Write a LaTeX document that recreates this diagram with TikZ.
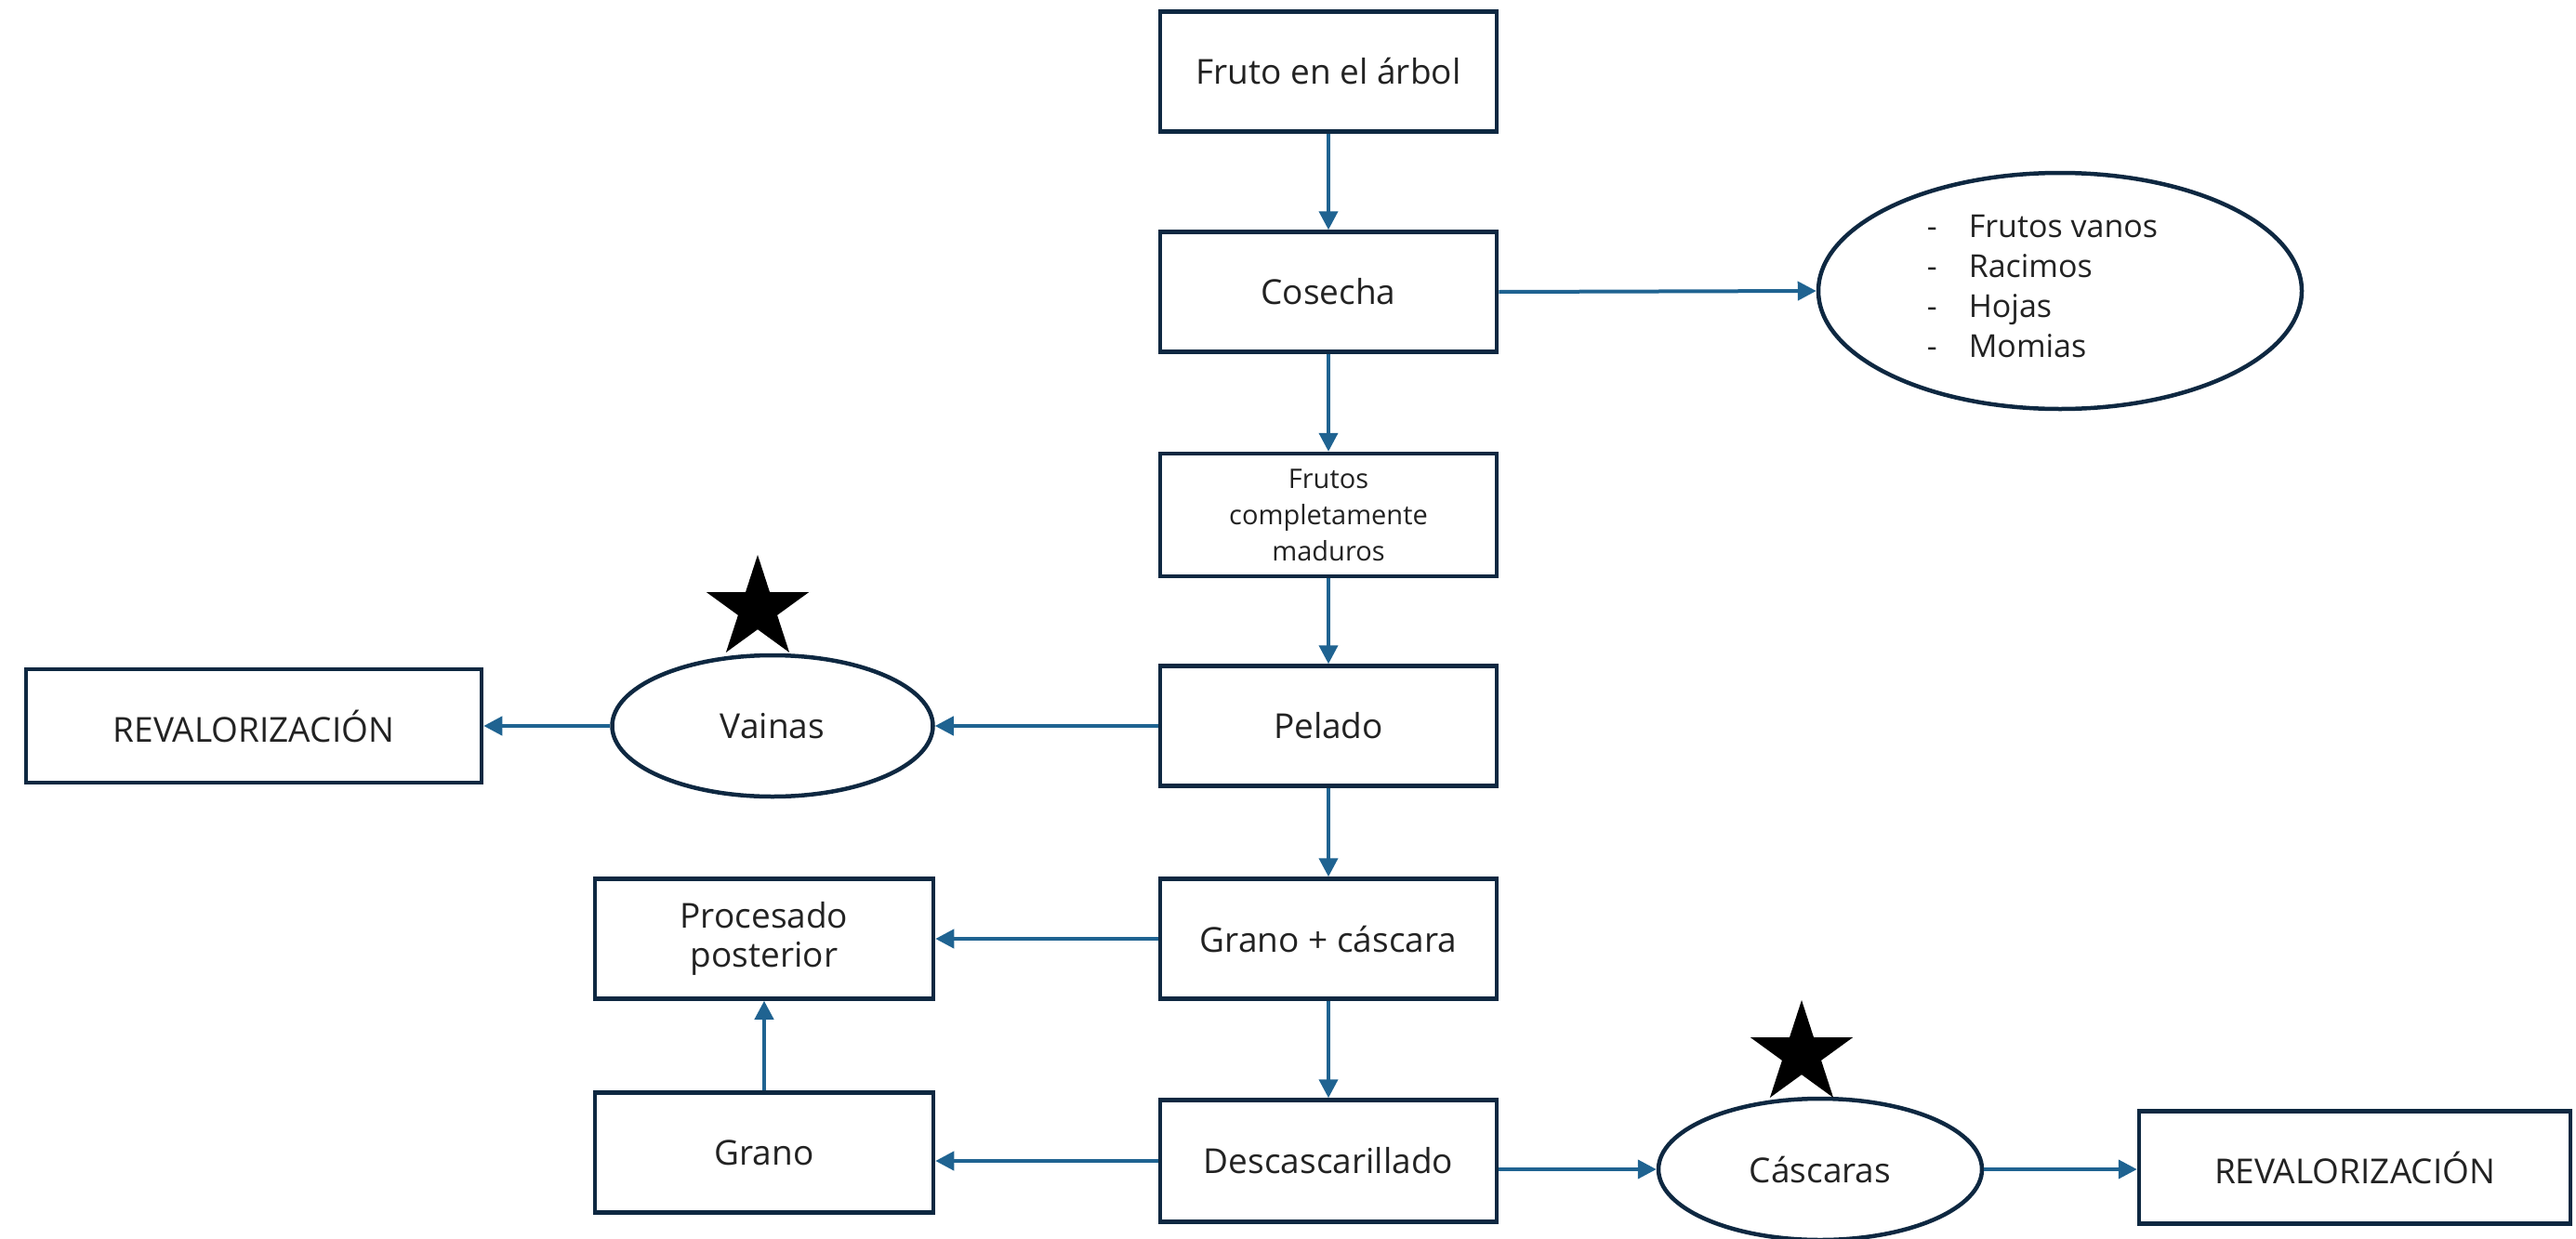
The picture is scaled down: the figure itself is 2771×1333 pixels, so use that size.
\documentclass[tikz,border=0pt]{standalone}
\usepackage{fontspec}
\setmainfont{Open Sans}
\usetikzlibrary{shapes.geometric,arrows.meta}
\definecolor{boxline}{HTML}{0E2841}
\definecolor{arrowc}{HTML}{1F6391}
\definecolor{txt}{HTML}{222222}
\begin{document}
\begin{tikzpicture}[x=1pt,y=-1pt,
  box/.style={draw=boxline,line width=4.5pt,rectangle,minimum width=362pt,minimum height=129pt,inner sep=0pt,align=center,text=txt,font=\fontsize{37}{42}\selectfont},
  oval/.style={draw=boxline,line width=4.5pt,ellipse,inner sep=0pt,align=center,text=txt,font=\fontsize{37}{42}\selectfont},
  flow/.style={draw=arrowc,line width=4pt,-{Triangle[length=20pt,width=20pt]}},
  starmark/.style={star,star points=5,star point ratio=2.618,fill=black,minimum size=116pt,inner sep=0pt}]
\useasboundingbox (0,0) rectangle (2771,1333);
\node[box] (fruto) at (1429,77) {Fruto en el árbol};
\node[box] (cosecha) at (1429,314) {Cosecha};
\node[box, minimum height=132pt, font=\fontsize{29}{39}\selectfont] (maduros) at (1429,554) {Frutos\\completamente\\maduros};
\node[box] (pelado) at (1429,781) {Pelado};
\node[box] (gc) at (1429,1010) {Grano + cáscara};
\node[box, minimum height=131pt] (desc) at (1429,1249) {Descascarillado};
\node[oval, minimum width=520pt, minimum height=254pt] (resid) at (2216,313) {};
\node[text=txt, inner sep=0pt, font=\fontsize{34}{43}\selectfont] (lista) at (2197,311)
  {\begin{tabular}{@{}l@{\hspace{34pt}}l@{}}-&Frutos vanos\\-&Racimos\\-&Hojas\\-&Momias\end{tabular}};
\node[oval, minimum width=345pt, minimum height=152pt] (vainas) at (831,781) {Vainas};
\node[box, minimum width=490pt, minimum height=122pt] (rev1) at (273,781) {REVALORIZACIÓN};
\node[starmark] (star1) at (815,655) {};
\node[box, minimum width=364pt] (proc) at (822,1010) {Procesado\\posterior};
\node[box, minimum width=364pt] (grano) at (822,1240) {Grano};
\node[oval, minimum width=348pt, minimum height=152pt] (cascaras) at (1958,1258) {Cáscaras};
\node[starmark] (star2) at (1938,1134) {};
\node[box, minimum width=464pt, minimum height=121pt] (rev2) at (2533,1256) {REVALORIZACIÓN};
\draw[flow] (fruto) -- (cosecha);
\draw[flow] (cosecha.east) -- (resid.west);
\draw[flow] (cosecha) -- (maduros);
\draw[flow] (maduros) -- (pelado);
\draw[flow] (pelado.west) -- (vainas.east);
\draw[flow] (vainas.west) -- (rev1.east);
\draw[flow] (pelado) -- (gc);
\draw[flow] (gc.west) -- (proc.east);
\draw[flow] (gc) -- (desc);
\draw[flow] (desc.west) -- (desc.west -| grano.east);
\draw[flow] (grano) -- (proc);
\draw[flow] (desc.east |- cascaras.west) -- (cascaras.west);
\draw[flow] (cascaras.east) -- (cascaras.east -| rev2.west);
\end{tikzpicture}
\end{document}
